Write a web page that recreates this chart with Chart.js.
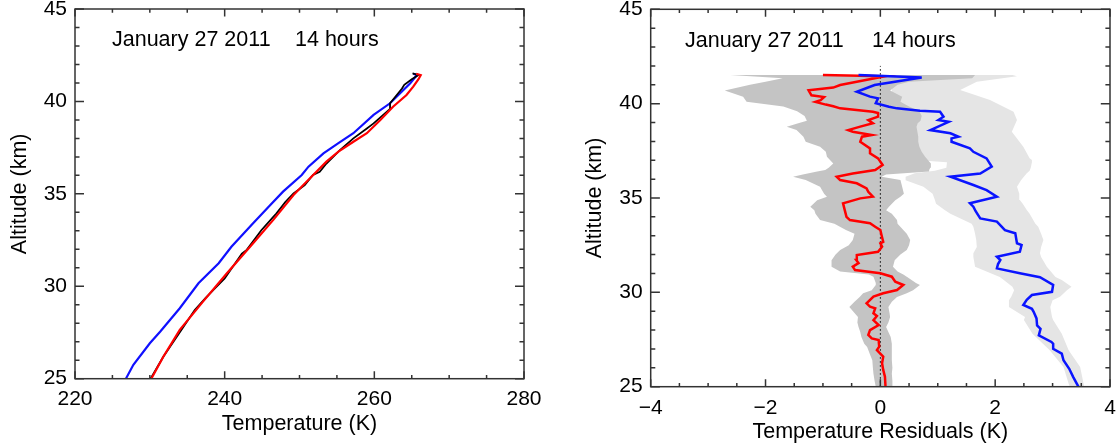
<!DOCTYPE html>
<html>
<head>
<meta charset="utf-8">
<script src="https://cdn.jsdelivr.net/npm/chart.js@4.4.1/dist/chart.umd.min.js"></script>
<style>
  body { margin: 0; background: #fff; }
  canvas { position: absolute; top: 0; }
  #left { left: 0; }
  #right { left: 560px; }
</style>
</head>
<body>
<canvas id="left" width="560" height="447"></canvas>
<canvas id="right" width="557" height="447"></canvas>
<script>
// caption text
const captionDate = 'January 27 2011';
const captionHours = '14 hours';

// ---------- left panel: temperature profiles (K) vs altitude (km) ----------
const redAltL   = [25.0, 26.19, 27.64, 29.17, 30.70, 32.33, 33.59, 34.94, 35.84, 36.74, 37.28, 37.82, 38.28, 38.99, 39.71, 40.35, 40.80, 41.2, 41.42, 41.5];
const redTempL  = [230.2, 231.8, 234.0, 237.1, 240.3, 243.8, 246.5, 249.2, 251.4, 253.6, 255.2, 257.2, 259.0, 260.8, 262.5, 264.3, 265.2, 265.9, 266.2, 265.6];

const blackAltL  = [25.0, 26.19, 27.27, 27.81, 28.72, 29.35, 29.80, 30.43, 30.95, 31.77, 31.95, 33.03, 33.75, 33.93, 34.56, 35.02, 35.47, 36.02, 36.19, 36.64, 37.37, 38.0, 38.54, 38.81, 39.6, 39.9, 40.7, 40.9, 41.2, 41.43, 41.52];
const blackTempL = [230.1, 231.8, 233.6, 234.5, 236.0, 237.4, 238.5, 240.0, 240.9, 242.3, 242.9, 244.9, 246.5, 246.9, 248.1, 249.2, 250.7, 251.8, 252.7, 253.6, 255.4, 257.2, 259.0, 259.9, 262.1, 262.1, 263.7, 264.0, 265.0, 265.9, 265.1];

const blueAltL  = [25.0, 25.75, 26.92, 27.55, 28.81, 30.16, 31.25, 32.14, 33.41, 34.40, 35.12, 36.02, 36.47, 37.19, 37.74, 38.28, 39.27, 39.90, 40.98, 41.43, 41.5];
const blueTempL = [226.8, 227.8, 230.0, 231.4, 234.0, 236.5, 239.2, 240.9, 243.8, 246.1, 247.8, 250.3, 251.2, 253.2, 255.2, 257.2, 259.9, 262.1, 264.8, 265.7, 265.2];

// ---------- right panel: residuals (K) vs altitude (km) ----------
const redAlt = [25.0, 25.53, 25.89, 26.24, 26.59, 26.94, 27.12, 27.47, 27.56, 27.74, 28.0, 28.27, 28.53, 28.75, 28.89, 29.15, 29.24, 29.42, 29.77, 29.95, 30.12, 30.39, 30.56, 30.83, 31.01, 31.18, 31.36, 31.55, 31.71, 31.98, 32.15, 32.42, 32.6, 32.68, 33.04, 33.3, 33.48, 33.66, 33.83, 34.0, 34.36, 34.72, 34.98, 35.07, 35.33, 35.51, 35.78, 35.95, 36.13, 36.3, 36.48, 36.75, 37.1, 37.37, 37.63, 37.98, 38.25, 38.34, 38.51, 38.6, 38.78, 38.96, 39.13, 39.31, 39.5, 39.57, 39.75, 39.86, 39.95, 40.09, 40.18, 40.35, 40.44, 40.55, 40.71, 40.85, 40.99, 41.45, 41.52];
const redRes = [0.09, 0.08, 0.05, 0.03, 0.05, -0.06, -0.02, -0.03, -0.15, -0.21, -0.18, -0.03, -0.12, -0.06, -0.12, -0.09, -0.18, -0.24, -0.12, 0.05, 0.29, 0.40, 0.26, 0.20, 0.0, -0.44, -0.48, -0.38, -0.42, -0.41, -0.04, 0.03, 0.0, 0.05, 0.02, 0.0, -0.09, -0.18, -0.53, -0.59, -0.62, -0.65, -0.35, -0.13, -0.21, -0.24, -0.41, -0.70, -0.76, -0.48, -0.09, 0.04, -0.04, -0.18, -0.18, -0.35, -0.32, -0.15, -0.48, -0.56, -0.35, -0.13, -0.21, -0.04, -0.04, -0.13, -0.70, -0.82, -0.95, -1.13, -1.04, -0.98, -1.2, -1.22, -1.25, -0.82, -0.70, 0.08, -1.0];

const blueAlt = [25.0, 25.51, 25.95, 26.40, 26.75, 27.01, 27.28, 27.37, 27.72, 28.07, 28.25, 28.62, 28.97, 29.13, 29.33, 29.6, 29.86, 30.03, 30.39, 30.8, 31.01, 31.27, 31.5, 31.71, 31.89, 32.15, 32.51, 32.6, 33.13, 33.3, 33.75, 33.92, 34.3, 34.54, 34.72, 35.07, 35.42, 35.69, 36.13, 36.3, 36.66, 37.1, 37.45, 37.63, 37.98, 38.16, 38.25, 38.43, 38.6, 39.04, 39.13, 39.31, 39.57, 39.63, 39.75, 39.84, 40.02, 40.28, 40.37, 40.63, 40.99, 41.38, 41.52];
const blueRes = [3.45, 3.36, 3.29, 3.19, 3.16, 3.01, 3.01, 2.98, 2.76, 2.79, 2.73, 2.72, 2.67, 2.64, 2.49, 2.55, 2.64, 2.99, 3.01, 2.78, 2.43, 2.03, 2.05, 2.09, 2.03, 2.43, 2.46, 2.38, 2.35, 2.17, 2.03, 1.74, 1.66, 1.62, 1.56, 2.03, 1.85, 1.62, 1.22, 1.74, 1.94, 1.85, 1.62, 1.56, 1.24, 1.24, 1.36, 1.22, 0.87, 1.19, 1.01, 1.1, 1.04, 0.69, 0.29, 0.15, -0.08, -0.04, -0.18, -0.41, -0.1, 0.72, -0.38];

// dark grey uncertainty band (around red)
const darkAlt = [25.0, 25.3, 25.69, 26.0, 26.4, 26.7, 27.1, 27.28, 27.63, 27.9, 28.16, 28.4, 28.69, 28.9, 29.22, 29.5, 29.75, 29.95, 30.11, 30.39, 30.5, 30.83, 30.95, 31.1, 31.36, 31.7, 32.0, 32.24, 32.5, 32.77, 33.1, 33.3, 33.64, 33.83, 34.17, 34.35, 34.54, 34.88, 35.07, 35.23, 35.6, 35.95, 36.13, 36.25, 36.4, 36.48, 36.6, 36.83, 37.19, 37.45, 37.72, 37.98, 38.25, 38.6, 38.78, 38.96, 39.1, 39.35, 39.6, 39.85, 40.1, 40.37, 40.7, 41.0, 41.16, 41.34, 41.52];
const darkLo  = [-0.08, -0.1, -0.12, -0.13, -0.14, -0.18, -0.23, -0.28, -0.33, -0.35, -0.38, -0.4, -0.39, -0.45, -0.54, -0.45, -0.36, -0.3, -0.15, -0.08, -0.08, -0.12, -0.2, -0.7, -0.85, -0.85, -0.78, -0.7, -0.55, -0.48, -0.45, -0.6, -0.8, -1.05, -1.13, -1.15, -1.22, -1.1, -0.93, -0.98, -1.05, -1.3, -1.52, -1.35, -1.1, -0.96, -0.9, -0.82, -0.93, -0.95, -1.05, -1.3, -1.34, -1.46, -1.63, -1.43, -1.28, -1.32, -1.45, -1.69, -2.33, -2.39, -2.71, -2.27, -2.0, -1.7, -2.62];
const darkHi  = [0.22, 0.21, 0.2, 0.21, 0.2, 0.2, 0.2, 0.2, 0.18, 0.14, 0.1, 0.14, 0.17, 0.16, 0.14, 0.2, 0.29, 0.46, 0.57, 0.69, 0.62, 0.46, 0.4, 0.3, 0.22, 0.25, 0.35, 0.46, 0.5, 0.52, 0.46, 0.4, 0.3, 0.29, 0.2, 0.1, 0.15, 0.26, 0.35, 0.41, 0.38, 0.35, 0.02, 0.1, 0.85, 0.85, 0.87, 0.88, 0.78, 0.72, 0.68, 0.66, 0.66, 0.64, 0.63, 0.65, 0.7, 0.72, 0.68, 0.5, 0.35, 0.38, 0.17, 0.3, 0.5, 1.6, 1.65];

// light grey uncertainty band (around blue)
const lightAlt = [25.0, 25.16, 26.05, 26.93, 27.8, 28.53, 28.69, 29.22, 29.58, 29.77, 30.11, 30.3, 30.65, 30.81, 31.36, 31.87, 32.07, 32.4, 32.77, 33.11, 33.48, 33.64, 34.17, 34.36, 34.70, 34.89, 35.23, 35.6, 35.94, 36.13, 36.31, 36.45, 36.6, 36.9, 37.01, 37.1, 37.72, 38.51, 39.13, 39.57, 40.19, 40.72, 41.16, 41.45, 41.52];
const lightLo  = [3.3, 3.28, 3.19, 2.95, 2.65, 2.5, 2.52, 2.24, 2.24, 2.28, 2.33, 2.3, 2.15, 2.08, 1.65, 1.62, 1.62, 1.68, 1.67, 1.65, 1.62, 1.59, 1.22, 1.12, 0.97, 0.95, 0.91, 0.75, 0.44, 0.44, 0.6, 0.95, 1.15, 1.16, 0.6, 0.3, 0.2, 0.2, 0.2, 0.2, 0.2, 0.2, 0.2, 0.2, 0.2];
const lightHi  = [3.55, 3.54, 3.48, 3.28, 3.16, 3.01, 2.99, 2.96, 3.0, 3.13, 3.25, 3.33, 3.16, 3.05, 2.90, 2.8, 2.78, 2.8, 2.84, 2.8, 2.75, 2.7, 2.6, 2.55, 2.48, 2.43, 2.42, 2.38, 2.45, 2.5, 2.55, 2.6, 2.62, 2.64, 2.64, 2.6, 2.49, 2.29, 2.38, 2.32, 1.91, 1.39, 1.68, 2.38, 2.3];

// dotted zero reference line
const zeroAlt = [25, 42];
const zeroRes = [0, 0];

const FONT = "'Liberation Sans', Arial, Helvetica, sans-serif";

function pts(xs, ys) {
    return xs.map((x, i) => ({ x: x, y: ys[i] }));
}

function line(xs, ys, color, width) {
    return {
        data: pts(xs, ys),
        borderColor: color,
        borderWidth: width,
        pointRadius: 0,
        tension: 0,
        fill: false
    };
}

function band(xs, ys, color, fill) {
    return {
        data: pts(xs, ys),
        borderWidth: 0,
        borderColor: 'rgba(0,0,0,0)',
        backgroundColor: color,
        pointRadius: 0,
        tension: 0,
        fill: fill
    };
}

// box with inward ticks on all four sides + caption, IDL style
const idlFrame = {
    id: 'idlFrame',
    afterDatasetsDraw(chart, args, o) {
        const ctx = chart.ctx;
        const a = chart.chartArea;
        const xs = chart.scales.x, ys = chart.scales.y;
        ctx.save();
        ctx.strokeStyle = '#333';
        ctx.lineWidth = 1.5;
        ctx.strokeRect(a.left, a.top, a.right - a.left, a.bottom - a.top);
        ctx.beginPath();
        let n = Math.round((xs.max - xs.min) / o.xMinor);
        for (let i = 0; i <= n; i++) {
            const px = xs.getPixelForValue(xs.min + i * o.xMinor);
            const len = (i % o.xPer === 0) ? o.xLen : o.xLen / 2;
            ctx.moveTo(px, a.bottom); ctx.lineTo(px, a.bottom - len);
            ctx.moveTo(px, a.top); ctx.lineTo(px, a.top + len);
        }
        n = Math.round((ys.max - ys.min) / o.yMinor);
        for (let i = 0; i <= n; i++) {
            const py = ys.getPixelForValue(ys.min + i * o.yMinor);
            const len = (i % o.yPer === 0) ? o.yLen : o.yLen / 2;
            ctx.moveTo(a.left, py); ctx.lineTo(a.left + len, py);
            ctx.moveTo(a.right, py); ctx.lineTo(a.right - len, py);
        }
        ctx.stroke();
        ctx.fillStyle = '#000';
        ctx.font = '21.5px ' + FONT;
        ctx.textBaseline = 'alphabetic';
        ctx.textAlign = 'left';
        ctx.fillText(captionDate, o.capX, o.capY);
        ctx.fillText(captionHours, o.capX + o.capGap, o.capY);
        ctx.restore();
    }
};

function axes(cfg) {
    return {
        x: {
            type: 'linear', min: cfg.xMin, max: cfg.xMax,
            grid: { display: false, drawTicks: false },
            border: { display: false },
            ticks: {
                stepSize: cfg.xStep, padding: cfg.xPad, color: '#000', maxRotation: 0,
                font: { family: FONT, size: 21 },
                callback: v => String(v).replace('-', '\u2212')
            },
            title: { display: true, text: cfg.xTitle, color: '#000',
                     font: { family: FONT, size: 21.5 }, padding: { top: 0, bottom: cfg.xTitlePad } },
            afterFit(s) { s.height = cfg.xHeight; s.paddingLeft = 0; s.paddingRight = 0; }
        },
        y: {
            type: 'linear', min: 25, max: 45,
            grid: { display: false, drawTicks: false },
            border: { display: false },
            ticks: { stepSize: 5, padding: 8, color: '#000', font: { family: FONT, size: 21 } },
            title: { display: true, text: 'Altitude (km)', color: '#000',
                     font: { family: FONT, size: 21.5 }, padding: { top: cfg.yTitlePad, bottom: 0 } },
            afterFit(s) { s.width = cfg.yWidth; s.paddingTop = 0; s.paddingBottom = 0; }
        }
    };
}

new Chart(document.getElementById('left'), {
    type: 'line',
    data: {
        datasets: [
            line(redTempL, redAltL, '#ff0000', 2.2),
            line(blackTempL, blackAltL, '#000000', 1.8),
            line(blueTempL, blueAltL, '#1010ff', 2.2)
        ]
    },
    options: {
        responsive: false,
        animation: false,
        indexAxis: 'y',
        layout: { padding: { left: 0, top: 9, right: 36, bottom: 0 } },
        scales: axes({ xMin: 220, xMax: 280, xStep: 20, xPad: 8, xTitle: 'Temperature (K)',
                       xTitlePad: 10, xHeight: 68.3, yWidth: 75, yTitlePad: 7 }),
        plugins: {
            legend: { display: false },
            tooltip: { enabled: false },
            idlFrame: { xMinor: 5, xPer: 4, xLen: 7.4, yMinor: 1, yPer: 5, yLen: 9,
                        capX: 112, capY: 46, capGap: 183 }
        }
    },
    plugins: [idlFrame]
});

new Chart(document.getElementById('right'), {
    type: 'line',
    data: {
        datasets: [
            line(blueRes, blueAlt, '#0a14ff', 2.5),
            line(redRes, redAlt, '#ff0000', 2.5),
            Object.assign(line(zeroRes, zeroAlt, '#000000', 1), { borderDash: [1.5, 2.5] }),
            band(darkLo, darkAlt, '#c4c4c4', false),
            band(darkHi, darkAlt, '#c4c4c4', '-1'),
            band(lightLo, lightAlt, '#e5e5e5', false),
            band(lightHi, lightAlt, '#e5e5e5', '-1')
        ]
    },
    options: {
        responsive: false,
        animation: false,
        indexAxis: 'y',
        layout: { padding: { left: 0, top: 9.3, right: 7, bottom: 0 } },
        scales: axes({ xMin: -4, xMax: 4, xStep: 2, xPad: 9, xTitle: 'Temperature Residuals (K)',
                       xTitlePad: 2, xHeight: 60.3, yWidth: 90.7, yTitlePad: 22.6 }),
        plugins: {
            legend: { display: false },
            tooltip: { enabled: false },
            idlFrame: { xMinor: 0.5, xPer: 4, xLen: 7.5, yMinor: 1, yPer: 5, yLen: 9.2,
                        capX: 125, capY: 46.5, capGap: 187 }
        }
    },
    plugins: [idlFrame]
});
</script>
</body>
</html>
